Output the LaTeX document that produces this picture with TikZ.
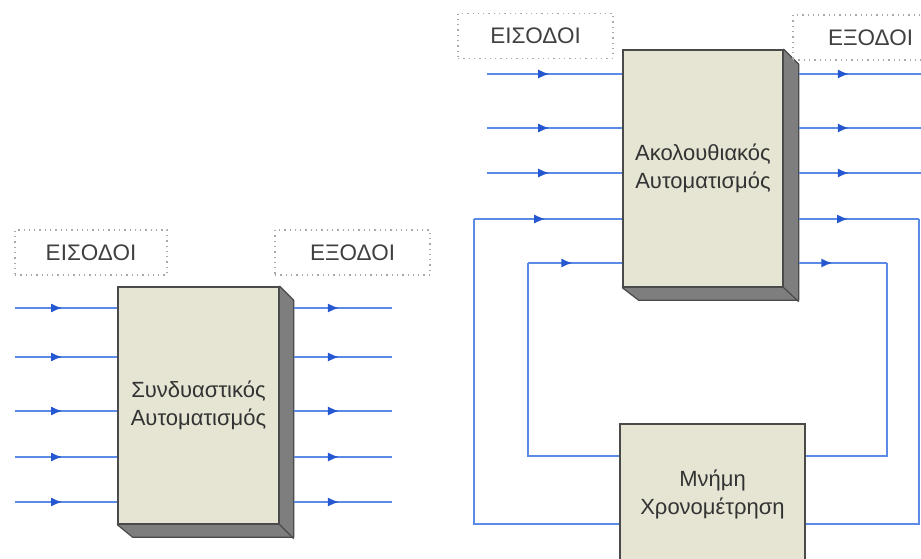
\documentclass[tikz,border=0pt]{standalone}
\usepackage{fontspec}
\setmainfont{Liberation Sans}
\usetikzlibrary{arrows.meta,calc,backgrounds,decorations.markings}
\definecolor{wireblue}{HTML}{5B8BE6}
\definecolor{tipblue}{HTML}{2457D0}
\definecolor{boxbeige}{HTML}{E6E5D3}
\definecolor{boxedge}{HTML}{4A4A4A}
\definecolor{sidegray}{HTML}{7E7E7E}
\definecolor{labgray}{HTML}{A8A8A8}
\tikzset{
  % κουτιά
  block/.style={draw=boxedge,fill=boxbeige,line width=1.4pt,inner sep=0pt,
                align=center,font=\fontsize{22}{28}\selectfont,text=black!80},
  side/.style={fill=sidegray,draw=boxedge,line width=1.2pt,line join=round},
  lab/.style={draw=labgray,line width=1.3pt,dash pattern=on 1.3pt off 4pt,
              inner sep=0pt,minimum height=45pt,
              font=\fontsize{22.5}{26}\selectfont,text=black!75},
  % γραμμές
  wire/.style={draw=wireblue,line width=1.5pt},
  flow/.style={wire,decoration={markings,mark=at position #1 with
               {\arrow[tipblue]{Latex[length=11pt,width=9pt]}}},postaction=decorate},
  flow/.default=0.45,
}
\begin{document}
\begin{tikzpicture}[x=1pt,y=-1pt]
  \useasboundingbox (0,0) rectangle (921,559);
  \clip (0,0) rectangle (921,559);
  % συνδυαστικός
  \node[lab,minimum width=152pt] (synin) at (91,252.5) {ΕΙΣΟΔΟΙ};
  \node[lab,minimum width=155pt] (synout) at (352.5,252.5) {ΕΞΟΔΟΙ};
  \node[block,minimum width=161pt,minimum height=237pt] (syn) at (198.5,405.5) {Συνδυαστικός\\Αυτοματισμός};
  \begin{scope}[on background layer]
  \filldraw[side] (syn.north east) -- ++(14,14) -- ++(0,237) -- ++(-161,0) -- (syn.south west) -- cycle;
  \draw[side] (syn.south east) -- ++(14,14);
  \end{scope}
  \foreach \y [count=\i] in {308,357,411,457,502} {
    \coordinate (a\i) at (15,\y);
    \coordinate (b\i) at (392,\y);
    \draw[flow=0.46] (a\i) -- (a\i -| syn.west);
    \draw[flow=0.46] ([xshift=14pt]b\i -| syn.east) -- (b\i);
  }
  % ακολουθιακός
  \node[lab,minimum width=155pt] (seqin) at (535.5,36) {ΕΙΣΟΔΟΙ};
  \node[lab,minimum width=155pt] (seqout) at (870.5,37.5) {ΕΞΟΔΟΙ};
  \node[block,minimum width=160pt,minimum height=237pt] (seq) at (703,168.5) {Ακολουθιακός\\Αυτοματισμός};
  \node[block,minimum width=185pt,minimum height=140pt] (mem) at (712.5,494) {Μνήμη\\Χρονομέτρηση};
  \begin{scope}[on background layer]
  \filldraw[side] (seq.north east) -- ++(15,15) -- ++(0,236) -- ++(-160,0) -- (seq.south west) -- cycle;
  \draw[side] (seq.south east) -- ++(15,14);
  \end{scope}
  \foreach \y [count=\i] in {74,128,173} {
    \coordinate (c\i) at (487,\y);
    \coordinate (d\i) at (921,\y);
    \draw[flow=0.46] (c\i) -- (c\i -| seq.west);
    \draw[flow=0.41] ([xshift=15pt]d\i -| seq.east) -- (d\i);
  }
  % ανάδραση
  \coordinate (fa) at (474,219);
  \coordinate (fb) at (528,263);
  \coordinate (fc) at (919,219);
  \coordinate (fd) at (887,263);
  \draw[wire] (mem.west |- 0,524) -| (fa);
  \draw[flow=0.48] (fa) -- (fa -| seq.west);
  \draw[wire] (mem.west |- 0,456) -| (fb);
  \draw[flow=0.47] (fb) -- (fb -| seq.west);
  \draw[flow=0.41] ([xshift=15pt]fc -| seq.east) -- (fc);
  \draw[wire] (fc) |- (mem.east |- 0,524);
  \draw[flow=0.38] ([xshift=15pt]fd -| seq.east) -- (fd);
  \draw[wire] (fd) |- (mem.east |- 0,456);
\end{tikzpicture}
\end{document}
